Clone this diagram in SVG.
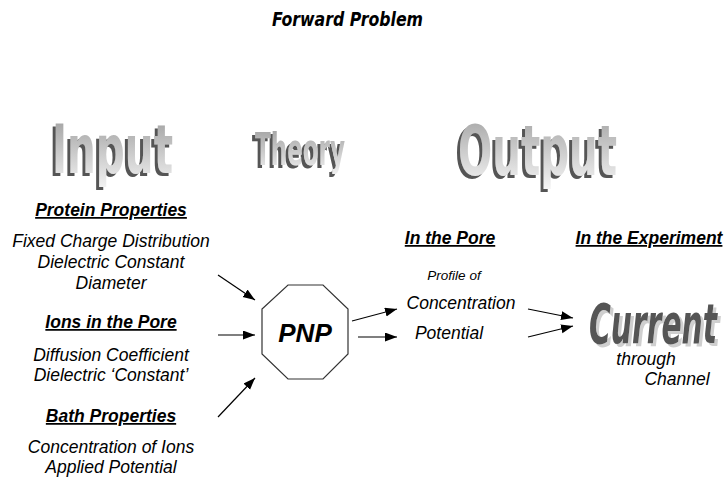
<svg xmlns="http://www.w3.org/2000/svg" width="728" height="481" viewBox="0 0 728 481">
  <style>
    .lbl { font-family: "Liberation Sans", Arial, sans-serif; font-style: italic; font-size: 17.5px; fill: #000; text-anchor: middle; }
    .hdr { font-weight: bold; text-decoration: underline; }
    .wa { font-family: "Liberation Sans Narrow", "DejaVu Sans Condensed", "Liberation Sans", sans-serif; font-weight: bold; font-stretch: condensed; }
    .conn { stroke: #000; stroke-width: 1.2; fill: none; marker-end: url(#ah); }
  </style>
  <defs>
    <marker id="ah" markerUnits="userSpaceOnUse" markerWidth="14" markerHeight="10" refX="12" refY="4.5" orient="auto">
      <path d="M0,0 L12,4.5 L0,9 z" fill="#000"/>
    </marker>
    <linearGradient id="gIn" x1="0" y1="0" x2="0" y2="1">
      <stop offset="0" stop-color="#9a9a9a"/>
      <stop offset="1" stop-color="#f4f4f4"/>
    </linearGradient>
    <linearGradient id="gOut" x1="0" y1="0" x2="0" y2="1">
      <stop offset="0" stop-color="#a0a0a0"/>
      <stop offset="1" stop-color="#f8f8f8"/>
    </linearGradient>
    <filter id="shDark" x="-10%" y="-10%" width="120%" height="130%">
      <feOffset in="SourceAlpha" dx="-3" dy="3" result="off"/>
      <feFlood flood-color="#555555"/>
      <feComposite in2="off" operator="in" result="sh"/>
      <feMerge><feMergeNode in="sh"/><feMergeNode in="SourceGraphic"/></feMerge>
    </filter>
    <filter id="shLight" x="-10%" y="-10%" width="120%" height="130%">
      <feOffset in="SourceAlpha" dx="3" dy="3" result="off"/>
      <feFlood flood-color="#cfcfcf"/>
      <feComposite in2="off" operator="in" result="sh"/>
      <feMerge><feMergeNode in="sh"/><feMergeNode in="SourceGraphic"/></feMerge>
    </filter>
  </defs>

  <rect width="728" height="481" fill="#fff"/>

  <g id="title">
    <text x="272" y="26" class="wa" font-style="italic" font-size="19" textLength="151" lengthAdjust="spacingAndGlyphs" fill="#000">Forward Problem</text>
  </g>

  <g id="heading-input">
    <text x="52" y="173" class="wa" font-size="67" textLength="121" lengthAdjust="spacingAndGlyphs" fill="url(#gIn)" filter="url(#shDark)">Input</text>
  </g>
  <g id="heading-theory">
    <text x="255" y="165" class="wa" font-size="45" textLength="90" lengthAdjust="spacingAndGlyphs" fill="url(#gIn)" filter="url(#shDark)">Theory</text>
  </g>
  <g id="heading-output">
    <text x="458" y="175" class="wa" font-size="70" textLength="159" lengthAdjust="spacingAndGlyphs" fill="url(#gOut)" filter="url(#shDark)">Output</text>
  </g>

  <g id="protein-properties">
    <text x="111" y="216" class="lbl hdr">Protein Properties</text>
    <text x="111" y="247" class="lbl">Fixed Charge Distribution</text>
    <text x="111" y="268" class="lbl">Dielectric Constant</text>
    <text x="111" y="289" class="lbl">Diameter</text>
  </g>
  <g id="ions-in-pore">
    <text x="111" y="328" class="lbl hdr">Ions in the Pore</text>
    <text x="111" y="361" class="lbl">Diffusion Coefficient</text>
    <text x="111" y="381" class="lbl">Dielectric ‘Constant’</text>
  </g>
  <g id="bath-properties">
    <text x="111" y="422" class="lbl hdr">Bath Properties</text>
    <text x="111" y="453" class="lbl">Concentration of Ions</text>
    <text x="111" y="473" class="lbl">Applied Potential</text>
  </g>

  <g id="pnp">
    <polygon points="288,285 323,285 348,309 348,354 323,379 288,379 262,354 262,309" fill="#fff" stroke="#333" stroke-width="1.2"/>
    <text x="305" y="342" font-family="Liberation Sans, Arial, sans-serif" font-weight="bold" font-style="italic" font-size="26" text-anchor="middle" fill="#000">PNP</text>
  </g>

  <g id="in-the-pore">
    <text x="450" y="244" class="lbl hdr">In the Pore</text>
    <text x="454" y="280" class="lbl" style="font-size:13.5px">Profile of</text>
    <text x="461" y="309" class="lbl">Concentration</text>
    <text x="449" y="339" class="lbl">Potential</text>
  </g>

  <g id="in-the-experiment">
    <text x="649" y="244" class="lbl hdr">In the Experiment</text>
    <text x="589" y="343" class="wa" font-style="italic" font-size="56" textLength="128" lengthAdjust="spacingAndGlyphs" fill="#555" filter="url(#shLight)">Current</text>
    <text x="646" y="365" class="lbl">through</text>
    <text x="677" y="385" class="lbl">Channel</text>
  </g>

  <g id="connectors">
    <line class="conn" x1="218" y1="275" x2="255" y2="300"/>
    <line class="conn" x1="218" y1="335" x2="255" y2="335"/>
    <line class="conn" x1="218" y1="417" x2="255" y2="378"/>
    <line class="conn" x1="352" y1="321" x2="397" y2="309"/>
    <line class="conn" x1="358" y1="337" x2="397" y2="337"/>
    <line class="conn" x1="528" y1="309" x2="573" y2="318"/>
    <line class="conn" x1="528" y1="337" x2="573" y2="326"/>
  </g>
</svg>
